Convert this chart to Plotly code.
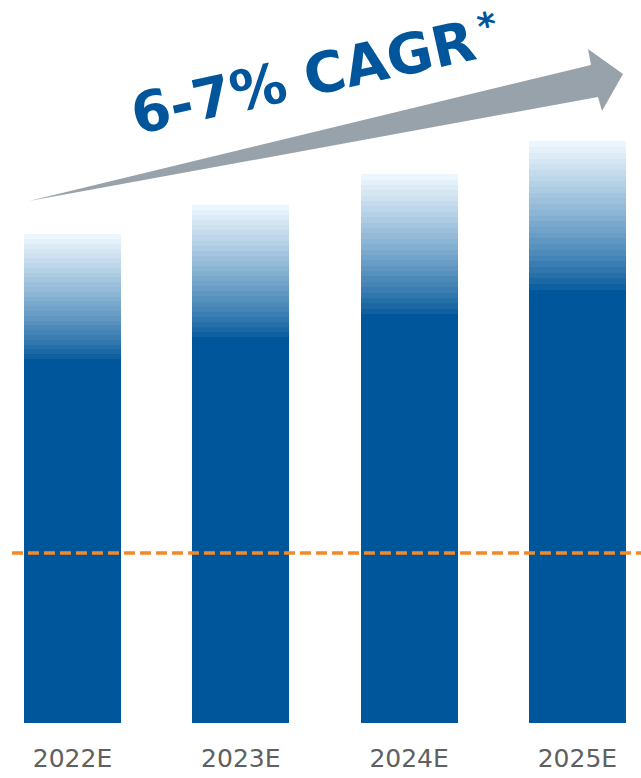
import plotly.graph_objects as go

# ---- data ----
categories = ["2022E", "2023E", "2024E", "2025E"]
values = [100.0, 106.0, 112.3, 119.0]
threshold = 34.8
headline = "6-7% CAGR"
headline_mark = "*"

# ---- style ----
W, H = 641, 778
B = 55
PH = H - B
DARK = (0, 86, 154)
LIGHT = (236, 246, 253)
N_SEG = 26
GRAD_FRAC = 0.255

def rgb(c):
    return "rgb(%d,%d,%d)" % tuple(int(round(v)) for v in c)

def lerp(a, b, t):
    return tuple(a[i] + (b[i] - a[i]) * t for i in range(3))

fig = go.Figure()
xs = list(range(len(categories)))
fig.add_trace(go.Bar(x=xs, y=[v * (1 - GRAD_FRAC) for v in values],
                     marker=dict(color=rgb(DARK), line=dict(width=0)),
                     hoverinfo="skip"))
for k in range(N_SEG):
    t = (k + 1) / N_SEG
    col = lerp(DARK, LIGHT, t ** 0.85)
    fig.add_trace(go.Bar(x=xs, y=[v * GRAD_FRAC / N_SEG for v in values],
                         marker=dict(color=rgb(col), line=dict(width=0)),
                         hoverinfo="skip"))

spacing = 168.3
x0 = 72.5
xr = [-x0 / spacing, (W - x0) / spacing]
ymax = PH / 4.887

fig.add_trace(go.Scatter(x=[(12 - x0) / spacing, xr[1]], y=[threshold, threshold],
                         mode="lines", line=dict(color="#F08A2B", width=3.5, dash="11px,5px"),
                         hoverinfo="skip"))

def px(x):
    return x / W

def py(y):
    return (PH - y) / PH

pts = [(29, 201), (591, 65), (588, 49), (623, 74), (602, 111), (598, 97)]
path = "M %f,%f " % (px(pts[0][0]), py(pts[0][1]))
path += " ".join("L %f,%f" % (px(a), py(b)) for a, b in pts[1:]) + " Z"
fig.add_shape(type="path", path=path, xref="paper", yref="paper",
              fillcolor="#98A2AB", line=dict(width=0), layer="above")

fig.add_annotation(x=px(303), y=py(78), xref="paper", yref="paper",
                   text="<b>%s</b>" % headline,
                   showarrow=False, textangle=-12.5,
                   font=dict(family="DejaVu Sans", size=56, color="#00559B"),
                   xanchor="center", yanchor="middle")
fig.add_annotation(x=px(487), y=py(26), xref="paper", yref="paper",
                   text="<b>%s</b>" % headline_mark,
                   showarrow=False, textangle=-12.5,
                   font=dict(family="DejaVu Sans", size=36, color="#00559B"),
                   xanchor="center", yanchor="middle")

fig.update_layout(
    width=W, height=H,
    margin=dict(l=0, r=0, t=0, b=B),
    paper_bgcolor="white", plot_bgcolor="white",
    barmode="stack", bargap=1 - 97 / spacing,
    showlegend=False,
    xaxis=dict(range=xr, tickmode="array", tickvals=xs, ticktext=categories,
               showgrid=False, zeroline=False, showline=False, ticks="",
               ticklabelstandoff=18,
               tickfont=dict(family="DejaVu Sans", size=25, color="#606060"),
               fixedrange=True),
    yaxis=dict(range=[0, ymax], visible=False, fixedrange=True),
)

fig.write_html("out.html", config={"displayModeBar": False})
